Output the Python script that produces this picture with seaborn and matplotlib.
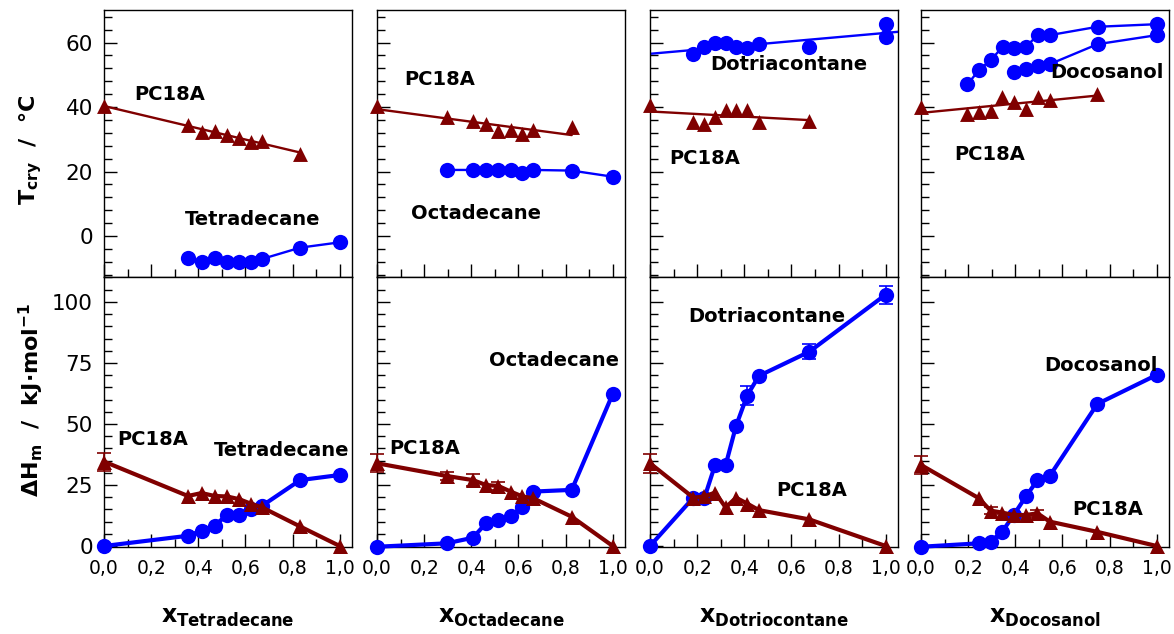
import numpy as np
import matplotlib
matplotlib.use("Agg")
import matplotlib.pyplot as plt
import seaborn as sns
from matplotlib.ticker import MultipleLocator, FuncFormatter

# ---------------- data ----------------
# PC18A + tetradecane
x_c14 = [0.0, 0.356, 0.414, 0.469, 0.522, 0.573, 0.624, 0.671, 0.832, 1.0]
tcry_pc18a_c14 = [40.3, 34.4, 32.3, 32.6, 31.3, 30.5, 29.2, 29.6, 25.4]          # x_c14[:-1]
tcry_c14 = [-6.9, -8.2, -6.9, -8.0, -8.2, -8.2, -7.1, -3.6, -1.95]               # x_c14[1:]
dh_pc18a_c14 = [34.6, 20.5, 21.7, 20.5, 20.3, 19.2, 17.3, 15.8, 8.0, 0.0]
dh_c14 = [0.0, 4.2, 6.3, 8.4, 12.7, 12.7, 15.0, 16.5, 27.0, 29.1]
err_pc18a_c14 = [3.7, 0, 0, 0, 0, 0, 0, 0, 0, 0]

# PC18A + octadecane
x_c18 = [0.0, 0.295, 0.407, 0.462, 0.515, 0.567, 0.617, 0.662, 0.826, 1.0]
tcry_pc18a_c18 = [40.3, 36.8, 35.8, 34.7, 32.7, 32.9, 31.8, 32.9, 33.9]
tcry_c18 = [20.5, 20.5, 20.5, 20.5, 20.5, 19.4, 20.5, 20.3, 18.4]
dh_pc18a_c18 = [33.9, 28.7, 27.0, 25.0, 24.6, 22.3, 20.3, 19.6, 12.0, 0.0]
dh_c18 = [-0.3, 1.1, 3.4, 9.3, 10.7, 12.3, 16.1, 22.3, 23.0, 62.3]
err_pc18a_c18 = [3.7, 1.5, 2.5, 0, 1.5, 0, 0, 0, 0, 0]

# PC18A + dotriacontane
x_c32 = [0.0, 0.184, 0.231, 0.276, 0.321, 0.365, 0.412, 0.462, 0.676, 1.0]
tcry_pc18a_c32 = [40.6, 35.4, 34.7, 37.0, 39.1, 39.1, 39.1, 35.4, 35.7]
x_c32_top = [0.184, 0.231, 0.276, 0.321, 0.365, 0.412, 0.462, 0.676, 1.0, 1.0]
tcry_c32 = [56.4, 58.7, 59.9, 59.9, 58.5, 58.2, 59.7, 58.5, 65.7, 61.6]
dh_pc18a_c32 = [33.9, 19.8, 20.3, 21.9, 15.8, 19.8, 17.4, 14.7, 10.9, 0.0]
dh_c32 = [0.0, 19.8, 19.8, 33.2, 33.2, 49.2, 61.6, 69.7, 79.6, 103.0]
err_pc18a_c32 = [3.8, 0, 0, 0, 0, 0, 0, 0, 0, 0]
err_c32 = [0, 0, 0, 0, 0, 0, 4.0, 0, 3.0, 3.7]

# PC18A + docosanol
x_c22_top = [0.0, 0.197, 0.246, 0.296, 0.345, 0.394, 0.444, 0.496, 0.546, 0.747]
tcry_pc18a_c22 = [40.1, 38.0, 38.5, 38.9, 43.0, 41.6, 39.3, 43.0, 42.2, 44.0]
x_c22_high = [0.197, 0.246, 0.296, 0.347, 0.394, 0.444, 0.496, 0.546, 0.749, 1.0]
tcry_c22_high = [47.0, 51.5, 54.6, 58.7, 58.2, 58.7, 62.3, 62.3, 64.9, 65.7]
x_c22_low = [0.394, 0.444, 0.496, 0.546, 0.749, 1.0]
tcry_c22_low = [50.9, 51.7, 52.7, 53.3, 59.5, 62.3]
x_c22 = [0.0, 0.245, 0.295, 0.344, 0.393, 0.445, 0.494, 0.546, 0.748, 1.0]
dh_pc18a_c22 = [33.2, 19.6, 14.5, 13.7, 12.7, 12.7, 13.4, 10.0, 5.8, 0.0]
dh_c22 = [-0.3, 1.1, 1.8, 5.8, 12.7, 20.3, 27.0, 28.7, 58.2, 70.1]
err_pc18a_c22 = [3.7, 0, 1.5, 0, 0, 0, 1.5, 0, 0, 0]

components = ["Tetradecane", "Octadecane", "Dotriacontane", "Docosanol"]
xlabel_names = ["Tetradecane", "Octadecane", "Dotriocontane", "Docosanol"]

# label positions (data coordinates): (PC18A, component) for top and bottom rows
top_label_pos = [((0.278, 43.8), (0.629, 5.0)),
                 ((0.267, 48.4), (0.421, 7.0)),
                 ((0.233, 24.1), (0.587, 53.1)),
                 ((0.292, 25.4), (0.790, 50.7))]
bot_label_pos = [((0.208, 43.7), (0.755, 39.3)),
                 ((0.204, 40.0), (0.751, 75.8)),
                 ((0.685, 22.7), (0.495, 94.0)),
                 ((0.790, 14.8), (0.762, 73.8))]

BLUE = "#0000FF"
BROWN = "#800000"

# ---------------- style ----------------
sns.set_theme(style="ticks")
plt.rcParams["font.family"] = ["DejaVu Sans"]
plt.rcParams["mathtext.fontset"] = "dejavusans"
for key in ("text.color", "axes.labelcolor", "xtick.color", "ytick.color",
            "axes.edgecolor"):
    plt.rcParams[key] = "black"

W, H = 1174, 634
fig = plt.figure(figsize=(W / 100, H / 100), dpi=100)
lefts = [104, 377, 650, 921]
aw = 248
top_axes, bot_axes = [], []
for l in lefts:
    top_axes.append(fig.add_axes([l / W, (H - 277) / H, aw / W, 267 / H]))
    bot_axes.append(fig.add_axes([l / W, (H - 547) / H, aw / W, 270 / H]))

XLIM = (0.0, 1.052)
TOP_YLIM = (-12.7, 70.1)
BOT_YLIM = (-0.4, 110.2)


def connected(ax, x, y, color, marker, lw, ms, z):
    sns.lineplot(x=np.asarray(x), y=np.asarray(y), ax=ax, color=color, lw=lw,
                 marker=marker, markersize=ms, markeredgewidth=0,
                 estimator=None, sort=False, zorder=z, clip_on=False,
                 legend=False)


def fitted(ax, x, y, color, marker, s, z, truncate=True):
    sns.regplot(x=np.asarray(x), y=np.asarray(y), ax=ax, ci=None, scatter=False,
                truncate=truncate, color=color,
                line_kws=dict(lw=1.7, zorder=z - 1))
    sns.scatterplot(x=np.asarray(x), y=np.asarray(y), ax=ax, color=color,
                    marker=marker, s=s, linewidth=0, zorder=z, clip_on=False,
                    legend=False)


def errors(ax, x, y, e, color, z):
    x, y, e = map(np.asarray, (x, y, e))
    m = e > 0
    ax.errorbar(x[m], y[m], yerr=e[m], fmt="none", ecolor=color,
                elinewidth=1.2, capsize=5, capthick=1.2, zorder=z,
                clip_on=False)


for ax in top_axes + bot_axes:
    ax.set_xlim(*XLIM)
for ax in top_axes:
    ax.set_ylim(*TOP_YLIM)
for ax in bot_axes:
    ax.set_ylim(*BOT_YLIM)

# ---------------- top row: crystallisation temperature ----------------
ax = top_axes[0]
fitted(ax, x_c14[:-1], tcry_pc18a_c14, BROWN, "^", 115, 4)
connected(ax, x_c14[1:], tcry_c14, BLUE, "o", 1.7, 11, 3)

ax = top_axes[1]
fitted(ax, x_c18[:-1], tcry_pc18a_c18, BROWN, "^", 115, 4)
connected(ax, x_c18[1:], tcry_c18, BLUE, "o", 1.7, 11, 3)

ax = top_axes[2]
fitted(ax, x_c32[:-1], tcry_pc18a_c32, BROWN, "^", 115, 4)
fitted(ax, x_c32_top, tcry_c32, BLUE, "o", 120, 3, truncate=False)

ax = top_axes[3]
fitted(ax, x_c22_top, tcry_pc18a_c22, BROWN, "^", 115, 4)
connected(ax, x_c22_high, tcry_c22_high, BLUE, "o", 1.7, 11, 3)
connected(ax, x_c22_low, tcry_c22_low, BLUE, "o", 1.7, 11, 3)

# ---------------- bottom row: melting enthalpy ----------------
bottom_sets = [
    (x_c14, dh_pc18a_c14, dh_c14, err_pc18a_c14, None),
    (x_c18, dh_pc18a_c18, dh_c18, err_pc18a_c18, None),
    (x_c32, dh_pc18a_c32, dh_c32, err_pc18a_c32, err_c32),
    (x_c22, dh_pc18a_c22, dh_c22, err_pc18a_c22, None),
]
for ax, (xs, tri, circ, etri, ecirc) in zip(bot_axes, bottom_sets):
    connected(ax, xs, circ, BLUE, "o", 3.0, 11, 3)
    connected(ax, xs, tri, BROWN, "^", 3.0, 10.8, 5)
    errors(ax, xs, tri, etri, BROWN, 4.5)
    if ecirc is not None:
        errors(ax, xs, circ, ecirc, BLUE, 2.5)

# ---------------- labels inside the panels ----------------
for i in range(4):
    (p, c) = top_label_pos[i]
    top_axes[i].text(*p, "PC18A", ha="center", va="center", fontsize=14,
                     fontweight="bold", color="black", zorder=6)
    top_axes[i].text(*c, components[i], ha="center", va="center", fontsize=14,
                     fontweight="bold", color="black", zorder=6)
    (p, c) = bot_label_pos[i]
    bot_axes[i].text(*p, "PC18A", ha="center", va="center", fontsize=14,
                     fontweight="bold", color="black", zorder=6)
    bot_axes[i].text(*c, components[i], ha="center", va="center", fontsize=14,
                     fontweight="bold", color="black", zorder=6)

# ---------------- axes cosmetics ----------------
comma = FuncFormatter(lambda v, pos: f"{v:.1f}".replace(".", ","))
for i, (at, ab) in enumerate(zip(top_axes, bot_axes)):
    for ax in (at, ab):
        ax.xaxis.set_major_locator(MultipleLocator(0.2))
        ax.xaxis.set_minor_locator(MultipleLocator(0.1))
        ax.tick_params(which="both", direction="in", top=False, right=False,
                       colors="black", width=1)
        ax.tick_params(which="major", length=9.5)
        ax.tick_params(which="minor", length=5.5)
        ax.tick_params(axis="y", labelsize=15.5, pad=8)
        ax.tick_params(axis="x", labelsize=13.5, pad=9)
        for s in ax.spines.values():
            s.set_visible(True)
            s.set_color("black")
            s.set_linewidth(1.0)
        ax.set_xlabel("")
        ax.set_ylabel("")
        ax.set_xlim(*XLIM)
    at.set_ylim(*TOP_YLIM)
    ab.set_ylim(*BOT_YLIM)
    at.yaxis.set_major_locator(MultipleLocator(20))
    at.yaxis.set_minor_locator(MultipleLocator(4))
    ab.yaxis.set_major_locator(MultipleLocator(25))
    ab.yaxis.set_minor_locator(MultipleLocator(5))
    at.tick_params(axis="x", labelbottom=False)
    ab.xaxis.set_major_formatter(comma)
    if i > 0:
        at.tick_params(axis="y", labelleft=False)
        ab.tick_params(axis="y", labelleft=False)
    ab.set_xlabel("x$_{\\mathbf{" + xlabel_names[i] + "}}$", fontsize=17,
                  fontweight="bold", color="black", labelpad=19)

fig.text(31 / W, 1 - 150 / H, "T$_{\\mathbf{cry}}$  /  °C", rotation=90,
         ha="center", va="center", fontsize=16, fontweight="bold")
fig.text(31 / W, 1 - 400 / H, "ΔH$_{\\mathbf{m}}$  /  kJ·mol$^{\\mathbf{-1}}$",
         rotation=90, ha="center", va="center", fontsize=16, fontweight="bold")

fig.savefig("out.png", dpi=100)
